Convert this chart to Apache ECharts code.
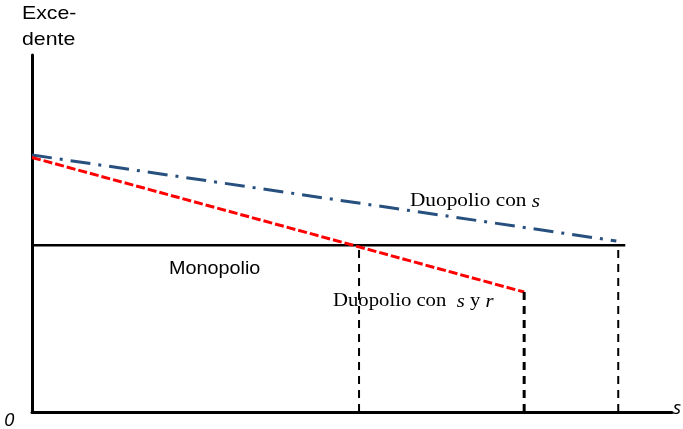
<!DOCTYPE html>
<html>
<head>
<meta charset="utf-8">
<script src="https://cdn.jsdelivr.net/npm/echarts@6/dist/echarts.min.js"></script>
<style>
html,body{margin:0;padding:0;background:#fff;}
#c{width:683px;height:429px;}
</style>
</head>
<body>
<div id="c"></div>
<script>
// Conceptual units (0-100 on both axes)
const duopolioS = [[0, 72.0], [91.3, 47.9]];          // blue dash-dot
const duopolioSR = [[0, 71.3], [76.9, 33.6]];         // red dashed
const monopolio = [[0, 46.7], [92.7, 46.7]];          // black solid
const cutoffs = [[51.1, 46.7], [76.9, 33.6], [91.6, 46.7]]; // vertical dashed drops [x, top]
const axisNames = { y: ['Exce-', 'dente'], x: 's', origin: '0' };
const labels = { mono: 'Monopolio', dS: 'Duopolio con ', dSR: 'Duopolio con  ' };

const chart = echarts.init(document.getElementById('c'));
const series = [
  { type: 'line', data: duopolioS, symbol: 'none', lineStyle: { color: '#27507F', width: 3, type: [20, 8, 3, 8] } },
  { type: 'line', data: monopolio, symbol: 'none', lineStyle: { color: '#000', width: 2.5, type: 'solid' } },
  { type: 'line', data: duopolioSR, symbol: 'none', lineStyle: { color: '#FF0000', width: 3, type: [9, 3] } }
];
cutoffs.forEach((c, i) => {
  series.push({ type: 'line', data: [[c[0], 0], [c[0], c[1]]], symbol: 'none',
    lineStyle: { color: '#000', width: i === 1 ? 3 : 2, type: [8, 6] } });
});
const serif = { a: { font: '19px "Liberation Serif", serif', fill: '#000' }, i: { font: 'italic 19px "Liberation Serif", serif', fill: '#000' } };
chart.setOption({
  animation: false,
  grid: { left: 32, right: 11, top: 55, bottom: 17 },
  xAxis: { type: 'value', min: 0, max: 100, axisLine: { onZero: false, lineStyle: { color: '#000', width: 3 } },
    axisTick: { show: false }, axisLabel: { show: false }, splitLine: { show: false } },
  yAxis: { type: 'value', min: 0, max: 100, axisLine: { show: true, onZero: false, lineStyle: { color: '#000', width: 3 } },
    axisTick: { show: false }, axisLabel: { show: false }, splitLine: { show: false } },
  series: series,
  graphic: [
    { type: 'text', x: 22, y: 4, scaleX: 1.12, style: { text: axisNames.y[0], font: '19px "Liberation Sans", Arial', fill: '#000' } },
    { type: 'text', x: 22, y: 30, scaleX: 1.12, style: { text: axisNames.y[1], font: '19px "Liberation Sans", Arial', fill: '#000' } },
    { type: 'text', x: 4, y: 411, style: { text: axisNames.origin, font: 'italic 19px "Open Sans", sans-serif', fill: '#000' } },
    { type: 'text', x: 673, y: 399, style: { text: axisNames.x, font: 'italic 19px "Open Sans", sans-serif', fill: '#000' } },
    { type: 'text', x: 169, y: 260, scaleX: 1.1, style: { text: labels.mono, font: '18px "Liberation Sans", Arial', fill: '#000' } },
    { type: 'text', x: 410, y: 192, scaleX: 1.12, style: { text: '{a|' + labels.dS + '}{i|s}', rich: serif } },
    { type: 'text', x: 333, y: 292, scaleX: 1.09, style: { text: '{a|' + labels.dSR + '}{i|s}{a| y }{i|r}', rich: serif } }
  ]
});
</script>
</body>
</html>
